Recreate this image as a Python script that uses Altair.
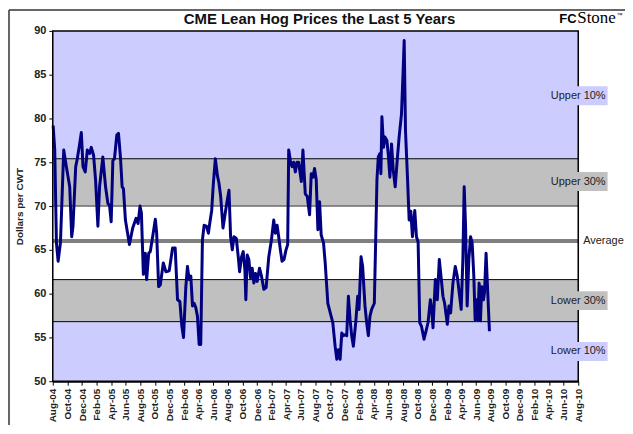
import altair as alt
import pandas as pd

# ---- data ----
# time position in months after Aug-2004, and price in $/cwt
months = [0.05, 0.27, 0.5, 0.73, 1.05, 1.5, 1.86, 2.32, 2.59, 2.77, 3.14, 3.36, 3.68, 3.91, 4.14,
          4.45, 4.73, 5.05, 5.27, 5.59, 5.86, 6.18, 6.41, 6.86, 7.23, 7.55, 7.77, 8.0, 8.23, 8.45,
          8.77, 9.0, 9.27, 9.5, 9.68, 9.95, 10.5, 10.95, 11.41, 11.68, 11.95, 12.14, 12.41, 12.68,
          12.86, 13.14, 13.36, 13.68, 14.05, 14.23, 14.5, 14.73, 15.14, 15.5, 15.95,
          16.41, 16.77, 17.09, 17.41, 17.68, 17.91, 18.23, 18.45, 18.68, 18.91, 19.14, 19.36, 19.59,
          19.82, 20.05, 20.27, 20.5, 20.73, 21.05, 21.32, 21.5, 21.77, 22.0, 22.27, 22.55, 22.77,
          23.0, 23.32, 23.68, 23.91, 24.14, 24.36, 24.59, 24.82, 25.14, 25.41, 25.59, 25.86, 26.09,
          26.32, 26.45, 26.64, 26.86, 27.09, 27.32, 27.55, 27.77, 28.0, 28.32, 28.59, 28.91, 29.23,
          29.59, 29.95, 30.27, 30.5, 30.73, 30.95, 31.18, 31.41, 31.68, 31.95, 32.18, 32.32, 32.55,
          32.77, 33.0, 33.23, 33.45,
          33.68, 34.05, 34.27, 34.59, 34.86, 35.18, 35.41, 35.64, 35.86, 36.09, 36.32, 36.55, 36.77,
          37.09, 37.32, 37.68, 38.14, 38.36, 38.68, 38.91, 39.14, 39.36, 39.59, 39.82, 40.05, 40.27,
          40.5, 40.73, 40.95, 41.18, 41.5, 41.77, 41.95, 42.23, 42.45, 42.77, 43.0, 43.23, 43.45,
          43.68, 44.05, 44.23, 44.41, 44.59, 44.82, 44.95, 45.09, 45.32, 45.5, 45.77, 45.95, 46.18,
          46.41, 46.64, 46.91, 47.18, 47.45, 47.77, 48.0, 48.14, 48.32, 48.59, 48.82, 49.05, 49.27,
          49.59, 49.82, 50.05,
          50.27, 50.5, 50.86, 51.18, 51.41, 51.73, 51.95, 52.09, 52.41, 52.68, 52.95, 53.23, 53.45,
          53.68, 54.05, 54.27, 54.5, 54.82, 55.14, 55.41, 55.68, 55.95, 56.18, 56.36, 56.55, 56.77,
          57.0, 57.23, 57.45, 57.68, 57.86, 58.05, 58.23, 58.41, 58.59, 58.77, 59.0, 59.14, 59.36,
          59.59, 59.82]
prices = [79.2, 76.4, 65.8, 63.7, 65.8, 76.4, 74.5, 72.2, 66.5, 67.7, 74.5, 75.4, 77.1, 78.4, 74.5,
          73.9, 76.4, 76.0, 76.7, 75.8, 73.0, 67.7, 72.2, 75.6, 72.2, 70.3, 70.1, 68.2, 75.2, 75.4,
          78.1, 78.3, 75.6, 72.2, 72.0, 68.4, 65.6, 67.5, 68.6, 68.0, 70.0, 69.2, 62.2, 64.6,
          61.6, 64.6, 64.8, 66.5, 68.5, 66.9, 60.8, 61.0, 63.5, 62.5, 62.6,
          65.2, 65.2, 59.3, 59.1, 56.3, 55.0, 60.8, 63.1, 61.6, 62.0, 58.6, 58.9, 58.4,
          57.4, 54.2, 54.2, 66.1, 67.8, 67.7, 66.9, 68.0, 69.5, 72.6, 75.4, 73.5, 72.6,
          71.1, 67.5, 69.5, 70.7, 71.8, 66.5, 65.0, 66.5, 66.3, 64.2, 62.5, 64.2, 64.8,
          62.7, 59.3, 64.4, 63.9, 61.8, 62.9, 61.2, 62.3, 61.4, 62.9, 62.0, 60.5, 60.7,
          64.2, 66.1, 68.4, 66.9, 67.8, 66.5, 65.0, 63.7, 63.9, 65.0, 65.6, 76.4, 75.2,
          74.5, 75.0, 73.9, 75.0,
          75.0, 72.8, 76.4, 71.4, 71.1, 69.0, 73.7, 73.3, 74.3, 73.0, 67.3, 70.5, 66.7,
          65.8, 63.5, 58.9, 57.4, 56.7, 54.0, 52.5, 53.6, 52.5, 55.5, 55.2, 55.3, 55.2,
          59.7, 57.0, 55.2, 54.0, 56.7, 59.7, 58.2, 64.2, 63.1, 58.6, 56.7, 55.2, 57.4,
          58.2, 58.9, 65.8, 73.0, 75.6, 76.0, 73.7, 80.2, 76.7, 77.9, 77.5, 76.0, 73.3,
          77.1, 74.1, 72.2, 75.2, 77.9, 80.5, 85.5, 88.9, 78.6, 73.3, 68.4, 69.4, 66.5,
          69.5, 66.5, 65.9,
          56.7, 56.3, 54.8, 55.9, 56.7, 59.3, 57.8, 56.1, 61.6, 59.3, 63.9, 61.6, 59.7,
          58.9, 56.5, 58.6, 57.8, 61.2, 63.1, 62.0, 60.1, 58.2, 63.9, 72.2, 67.7, 58.6,
          63.9, 66.5, 65.8, 62.0, 57.0, 59.3, 57.0, 61.2, 56.9, 60.8, 59.3, 60.1, 64.6,
          60.1, 55.7]

# zone boundaries ($/cwt)
upper10 = 75.4
upper30 = 70.0
average = 66.0
lower30 = 61.6
lower10 = 56.8
y_min, y_max = 50, 90
y_ticks = [50, 55, 60, 65, 70, 75, 80, 85, 90]

zone_labels = ["Upper 10%", "Upper 30%", "Average", "Lower 30%", "Lower 10%"]
zone_label_y = [82.6, 72.8, 66.0, 59.2, 53.4]

title_text = "CME Lean Hog Prices the Last 5 Years"
y_title = "Dollars per CWT"

# ---- build tables ----
base = pd.Timestamp("2004-08-01")
def to_date(m):
    return (base + pd.Timedelta(days=m * 30.4375)).strftime("%Y-%m-%dT%H:%M:%S")

price_df = pd.DataFrame({"x": [to_date(m) for m in months], "y": prices})

x_start = "2004-08-01T00:00:00"
x_end = "2010-08-01T00:00:00"

LAV = "#CCCCFF"
GREY = "#C0C0C0"
zones_df = pd.DataFrame({
    "x": [x_start] * 5, "x2": [x_end] * 5,
    "y": [upper10, upper30, lower30, lower10, y_min],
    "y2": [y_max, upper10, upper30, lower30, lower10],
    "c": [LAV, GREY, "#FFFFFF", GREY, LAV],
})
rules_df = pd.DataFrame({
    "y": [upper10, upper30, lower30, lower10, average],
    "c": ["#000000", "#333333", "#000000", "#000000", "#808080"],
    "w": [1, 1, 1, 1, 4],
})
lab_df = pd.DataFrame({
    "x": [x_end] * 5, "y": zone_label_y, "t": zone_labels,
    "c": [LAV, GREY, "#FFFFFF", GREY, LAV],
})

tick_dates = []
for i in range(37):
    mm = 8 + 2 * i
    yr = 2004 + (mm - 1) // 12
    mo = (mm - 1) % 12 + 1
    tick_dates.append(alt.DateTime(year=yr, month=mo, date=1))

FONT = "Liberation Sans"
xscale = alt.Scale(domain=[alt.DateTime(year=2004, month=8, date=1),
                           alt.DateTime(year=2010, month=8, date=1)])
yscale = alt.Scale(domain=[y_min, y_max], nice=False, zero=False)

xaxis = alt.Axis(values=tick_dates, format="%b-%y", labelAngle=-90, title=None,
                 labelFont=FONT, labelFontSize=10, labelFontWeight="bold",
                 labelColor="#222222", tickColor="#000000", tickSize=4,
                 domainColor="#000000", domainWidth=2, labelPadding=3,
                 grid=False, labelOverlap=False, labelBound=False, labelFlush=False)
yaxis = alt.Axis(values=y_ticks, title=y_title, titleFont=FONT, titleFontSize=10,
                 titleFontWeight="bold", titleColor="#222222", titlePadding=9,
                 labelFont=FONT, labelFontSize=11, labelFontWeight="bold",
                 labelColor="#222222", tickColor="#000000", tickSize=4,
                 domainColor="#000000", domainWidth=2, labelPadding=3, grid=False)

xenc = alt.X("x:T", scale=xscale, axis=xaxis)
yenc = alt.Y("y:Q", scale=yscale, axis=yaxis)

zones = alt.Chart(zones_df).mark_rect().encode(
    x=xenc, x2="x2:T", y=yenc, y2="y2:Q", color=alt.Color("c:N", scale=None))

rules = alt.Chart(rules_df).mark_rule().encode(
    y=yenc, color=alt.Color("c:N", scale=None), size=alt.Size("w:Q", scale=None))

line = alt.Chart(price_df).mark_line(color="#000080", strokeWidth=3, strokeJoin="round").encode(
    x=xenc, y=yenc)

lab_boxes = alt.Chart(lab_df[lab_df["t"] != "Average"]).mark_rect(width=59, height=19).encode(
    x=xenc, y=yenc, color=alt.Color("c:N", scale=None))

lab_text = alt.Chart(lab_df[lab_df["t"] != "Average"]).mark_text(
    font=FONT, fontSize=11, color="#222222", align="center", baseline="middle").encode(
    x=xenc, y=yenc, text="t:N")

avg_text = alt.Chart(lab_df[lab_df["t"] == "Average"]).mark_text(
    font=FONT, fontSize=11, color="#222222", align="left", baseline="middle", dx=5).encode(
    x=xenc, y=yenc, text="t:N")

title = alt.Chart(pd.DataFrame({"t": [title_text]})).mark_text(
    font=FONT, fontSize=15, fontWeight="bold", color="#111111", align="center",
    baseline="alphabetic").encode(x=alt.value(268), y=alt.value(-7), text="t:N")

logo_fc = alt.Chart(pd.DataFrame({"t": ["FC"]})).mark_text(
    font=FONT, fontSize=13, fontWeight="bold", color="#000000", align="left",
    baseline="alphabetic").encode(x=alt.value(509), y=alt.value(-8), text="t:N")
logo_stone = alt.Chart(pd.DataFrame({"t": ["Stone"]})).mark_text(
    font="Liberation Serif", fontSize=17, color="#000000", align="left",
    baseline="alphabetic").encode(x=alt.value(527), y=alt.value(-8), text="t:N")
logo_tm = alt.Chart(pd.DataFrame({"t": ["™"]})).mark_text(
    font=FONT, fontSize=6, color="#000000", align="left",
    baseline="alphabetic").encode(x=alt.value(567), y=alt.value(-14), text="t:N")

plot_frame = alt.Chart(pd.DataFrame({"a": [0]})).mark_rect(
    fill=None, stroke="#000000", strokeWidth=1.5).encode(
    x=alt.value(0), x2=alt.value(528), y=alt.value(0), y2=alt.value(352))

# outer frame: top and left edges of the picture border
frame_top = alt.Chart(pd.DataFrame({"a": [0]})).mark_rule(
    stroke="#333333", strokeWidth=1.5).encode(
    x=alt.value(-44), x2=alt.value(575), y=alt.value(-21))
frame_left = alt.Chart(pd.DataFrame({"a": [0]})).mark_rule(
    stroke="#333333", strokeWidth=1.5).encode(
    x=alt.value(-44), y=alt.value(-21), y2=alt.value(396))

chart = alt.layer(
    zones, rules, line, plot_frame, lab_boxes, lab_text, avg_text, title,
    logo_fc, logo_stone, logo_tm, frame_top, frame_left
).properties(
    width=528, height=352,
    autosize=alt.AutoSizeParams(type="none"),
    padding={"left": 45, "top": 22, "right": 47, "bottom": 44},
).configure_view(stroke="#000000", strokeWidth=1.5).configure(background="#FFFFFF")

chart.save("out.html", embed_options={"renderer": "svg", "actions": False})
